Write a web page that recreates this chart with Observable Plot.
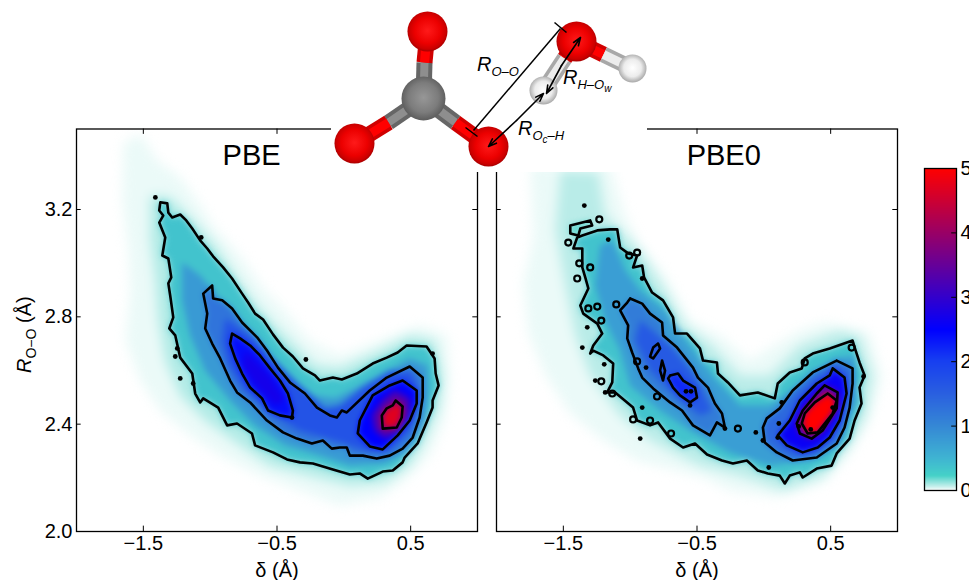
<!DOCTYPE html>
<html><head><meta charset="utf-8">
<script src="https://cdn.jsdelivr.net/npm/d3@7"></script>
<script src="https://cdn.jsdelivr.net/npm/@observablehq/plot@0.6"></script>
<style>
html,body{margin:0;padding:0;background:#fff;overflow:hidden}
#page{position:relative;width:969px;height:580px;overflow:hidden;font-family:"Liberation Sans",Arial,sans-serif;color:#000}
#page svg{position:absolute;overflow:hidden}
</style></head><body><div id="page"></div>
<script>
// ---- axes ----
const xTicks=[-1.5,-0.5,0.5];
const yTicks=[2.0,2.4,2.8,3.2];
const colorTicks=[0,1,2,3,4,5];
const colorStops=[0,0.06,0.23,0.5,1,1.5,2,2.5,5];
const colorRange=["#ffffff","#c8f0ec","#45d1c8","#3fb4d2","#3588d5","#2a60e0","#1840f0","#0000ff","#ff0000"];
// R readings below were taken against a ruler of 270 px per Angstrom; the axis has 268.3
const rulerCorrection=270/268.3;

// ---- PBE density outlines: [delta, R, delta, R, ...] ----
const pbeHaloFaint=[-1.649,3.437,-1.522,3.474,-1.396,3.374,-1.224,3.311,-1.097,3.226,-.963,3.122,-.776,3.022,-.590,2.893,-.440,2.819,-.254,2.707,-.030,2.652,.269,2.707,.567,2.763,.776,2.726,.791,2.559,.754,2.411,.642,2.281,.455,2.189,.269,2.126,-.030,2.096,-.328,2.152,-.627,2.207,-.925,2.281,-1.149,2.356,-1.373,2.448,-1.522,2.559,-1.634,2.707,-1.597,2.893,-1.612,3.041,-1.657,3.226];
const pbeHaloMid=[-1.448,3.244,-1.299,3.237,-1.112,3.144,-.963,3.059,-.813,2.948,-.664,2.844,-.515,2.763,-.366,2.689,-.216,2.615,-.030,2.604,.269,2.670,.493,2.726,.679,2.707,.739,2.578,.716,2.467,.604,2.337,.493,2.244,.306,2.181,.045,2.170,-.254,2.207,-.552,2.244,-.776,2.319,-1.037,2.411,-1.224,2.504,-1.336,2.633,-1.388,2.781,-1.410,2.930,-1.448,3.078];
const pbeBand=[-1.209,2.996,-1.075,2.948,-.888,2.837,-.701,2.726,-.552,2.652,-.403,2.567,-.216,2.504,-.067,2.493,.231,2.567,.493,2.641,.627,2.615,.634,2.504,.604,2.393,.478,2.293,.306,2.252,.045,2.244,-.179,2.281,-.440,2.319,-.664,2.393,-.851,2.485,-1.037,2.596,-1.149,2.726,-1.209,2.856];
const pbeCore=[-.888,2.789,-.701,2.726,-.515,2.633,-.328,2.541,-.142,2.456,-.030,2.467,.157,2.541,.343,2.596,.507,2.589,.567,2.504,.493,2.374,.343,2.300,.157,2.300,-.067,2.337,-.328,2.374,-.552,2.441,-.739,2.522,-.866,2.615,-.910,2.707];
const pbeLobeCentre=[-.739,2.670,-.552,2.578,-.440,2.485,-.515,2.467,-.664,2.541,-.761,2.615];
const pbePeakRing=[.381,2.522,.493,2.493,.493,2.430,.403,2.367,.306,2.344,.231,2.374,.209,2.430,.284,2.485];

// ---- PBE contour lines ----
const pbeLevelA=[-1.373,3.219,-1.321,3.215,-1.313,3.181,-1.284,3.163,-1.224,3.174,-1.179,3.152,-1.134,3.122,-1.075,3.078,-1.022,3.048,-.978,3.019,-.903,2.978,-.836,2.937,-.761,2.881,-.716,2.848,-.664,2.807,-.604,2.785,-.530,2.730,-.455,2.681,-.381,2.648,-.306,2.604,-.216,2.578,-.179,2.559,-.082,2.570,-.015,2.563,.097,2.585,.216,2.622,.321,2.644,.403,2.663,.470,2.689,.619,2.685,.679,2.641,.687,2.585,.709,2.541,.664,2.485,.664,2.459,.619,2.404,.552,2.326,.455,2.274,.440,2.256,.366,2.226,.291,2.222,.179,2.196,.119,2.215,.045,2.211,-.082,2.230,-.231,2.252,-.328,2.256,-.425,2.267,-.530,2.293,-.664,2.319,-.687,2.363,-.799,2.400,-.873,2.393,-.940,2.459,-1.052,2.493,-1.075,2.478,-1.112,2.511,-1.134,2.585,-1.224,2.644,-1.261,2.726,-1.306,2.752,-1.276,2.793,-1.299,2.874,-1.313,2.919,-1.291,2.941,-1.313,3.011,-1.358,3.022,-1.336,3.089,-1.381,3.144,-1.351,3.170,-1.381,3.189];
const pbeLevelB=[-.985,2.911,-.978,2.863,-.910,2.856,-.836,2.826,-.761,2.774,-.649,2.719,-.575,2.670,-.493,2.607,-.403,2.552,-.291,2.511,-.201,2.459,-.104,2.430,-.052,2.422,-.015,2.448,.022,2.441,.194,2.522,.321,2.570,.493,2.611,.590,2.570,.590,2.496,.567,2.422,.515,2.348,.440,2.307,.343,2.281,.246,2.270,.142,2.281,.045,2.281,.022,2.311,-.030,2.311,-.090,2.307,-.157,2.337,-.239,2.326,-.351,2.344,-.455,2.367,-.575,2.411,-.701,2.478,-.799,2.515,-.851,2.559,-.925,2.641,-.985,2.696,-1.037,2.752,-1.022,2.807,-1.052,2.881];
const pbeLevelC1=[-.836,2.733,-.776,2.715,-.701,2.689,-.627,2.652,-.552,2.604,-.478,2.559,-.418,2.511,-.381,2.448,-.388,2.422,-.478,2.430,-.567,2.448,-.612,2.493,-.701,2.533,-.761,2.585,-.813,2.641,-.851,2.696];
const pbeLevelC2=[.440,2.559,.545,2.522,.545,2.474,.493,2.411,.403,2.356,.291,2.304,.194,2.315,.104,2.363,.119,2.411,.216,2.504,.343,2.541];
const pbeLevelD=[.388,2.485,.440,2.463,.433,2.422,.396,2.385,.291,2.381,.284,2.430,.321,2.456,.366,2.467];
const pbeSpecks=[-1.410,3.237,-1.067,3.089,-1.246,2.678,-1.261,2.648,-1.224,2.567,-1.127,2.548,-.284,2.637,-.388,2.422,.664,2.659];

// ---- PBE0 density outlines ----
const pbe0HaloFaint=[-1.746,3.356,-1.149,3.356,-1.037,3.170,-.925,3.059,-.739,2.948,-.552,2.781,-.328,2.726,-.104,2.633,.082,2.689,.269,2.744,.455,2.774,.791,2.737,.888,2.570,.791,2.411,.642,2.289,.440,2.178,.097,2.126,-.254,2.152,-.455,2.200,-.948,2.263,-1.201,2.337,-1.448,2.437,-1.634,2.578,-1.761,2.733,-1.799,2.919,-1.724,3.089];
const pbe0HaloMid=[-1.522,3.337,-1.239,3.330,-1.187,3.170,-.925,3.041,-.739,2.893,-.590,2.763,-.388,2.689,-.179,2.578,.045,2.578,.269,2.689,.567,2.744,.716,2.726,.813,2.578,.761,2.430,.642,2.319,.455,2.207,.157,2.152,-.179,2.207,-.478,2.244,-.851,2.337,-1.075,2.430,-1.299,2.578,-1.410,2.726,-1.485,2.911,-1.560,3.119];
const pbe0Band=[-1.224,3.059,-1.134,3.078,-1.037,2.967,-.925,2.893,-.739,2.819,-.552,2.689,-.366,2.567,-.179,2.467,.045,2.467,.269,2.541,.530,2.641,.679,2.652,.694,2.485,.567,2.319,.343,2.263,.045,2.244,-.254,2.293,-.552,2.374,-.776,2.448,-1.000,2.541,-1.075,2.670,-1.187,2.781,-1.261,2.911];
const pbe0Core=[-.925,2.781,-.701,2.689,-.515,2.578,-.388,2.448,-.478,2.430,-.664,2.504,-.851,2.596,-.963,2.707];

// ---- PBE0 contour lines ----
const pbe0LevelA=[-1.358,3.096,-1.246,3.115,-1.149,3.119,-1.097,3.119,-1.075,3.052,-1.015,3.030,-.948,3.022,-.978,2.978,-.910,2.985,-.896,2.941,-.836,2.885,-.754,2.856,-.679,2.793,-.664,2.733,-.575,2.733,-.478,2.678,-.455,2.633,-.351,2.626,-.343,2.585,-.269,2.552,-.179,2.504,-.045,2.515,.082,2.493,.104,2.548,.194,2.589,.284,2.604,.306,2.641,.366,2.659,.493,2.678,.664,2.707,.687,2.670,.716,2.626,.754,2.578,.716,2.533,.731,2.474,.679,2.411,.642,2.344,.545,2.289,.507,2.244,.396,2.233,.291,2.200,.269,2.219,.194,2.207,.157,2.178,.119,2.207,.030,2.215,-.045,2.226,-.127,2.263,-.231,2.252,-.313,2.263,-.425,2.285,-.515,2.326,-.604,2.311,-.701,2.344,-.791,2.404,-.851,2.393,-.948,2.411,-.978,2.459,-1.112,2.515,-1.172,2.515,-1.134,2.552,-1.127,2.622,-1.201,2.652,-1.276,2.670,-1.299,2.659,-1.276,2.689,-1.209,2.733,-1.246,2.770,-1.351,2.807,-1.373,2.837,-1.313,2.900,-1.336,2.941,-1.358,2.978,-1.358,3.048,-1.425,3.048,-1.396,3.089];
const pbe0LevelA2=[-1.448,3.133,-1.299,3.152,-1.284,3.133,-1.373,3.122,-1.388,3.096,-1.448,3.104];
const pbe0LevelB1=[-1.000,2.863,-.910,2.844,-.851,2.807,-.761,2.774,-.754,2.726,-.649,2.681,-.530,2.607,-.493,2.570,-.418,2.533,-.366,2.474,-.313,2.437,-.291,2.385,-.351,2.404,-.403,2.356,-.530,2.393,-.612,2.448,-.701,2.478,-.828,2.530,-.910,2.570,-.940,2.604,-.985,2.663,-1.022,2.715,-1.015,2.763,-1.075,2.819,-1.022,2.848];
const pbe0LevelB2=[.545,2.633,.664,2.604,.664,2.548,.642,2.459,.604,2.385,.545,2.326,.396,2.274,.216,2.263,.097,2.293,.007,2.330,-.007,2.385,.022,2.419,.119,2.456,.216,2.522,.366,2.589];
const pbe0LevelC1=[-.701,2.578,-.642,2.585,-.604,2.559,-.515,2.533,-.500,2.496,-.552,2.478,-.627,2.504,-.679,2.533,-.716,2.567];
const pbe0LevelC2=[-.791,2.696,-.776,2.678,-.828,2.641,-.851,2.648,-.828,2.681];
const pbe0LevelC3=[-.761,2.633,-.739,2.596,-.754,2.559,-.776,2.596];
const pbe0LevelC4=[.515,2.604,.604,2.570,.619,2.511,.567,2.411,.493,2.348,.403,2.311,.291,2.293,.172,2.319,.104,2.356,.194,2.411,.269,2.485,.396,2.548,.493,2.578];
const pbe0LevelD=[.455,2.541,.552,2.515,.545,2.456,.440,2.374,.358,2.344,.269,2.363,.246,2.400,.291,2.448,.396,2.511];
const pbe0LevelE=[.478,2.511,.545,2.485,.515,2.437,.403,2.367,.328,2.363,.284,2.400,.306,2.437,.381,2.478];
const pbe0Rings=[-1.246,2.833,-1.216,2.781,-1.216,2.556,-1.134,2.511,-.799,2.500,-.978,2.415,-.851,2.411,-.694,2.363,-.194,2.381,.306,2.626,.657,2.681,-1.231,3.156,-1.463,3.070,-1.381,2.993,-1.299,2.978,-1.396,2.937,-1.313,2.826,-1.007,3.022,-.948,3.033,-1.104,2.841,-.948,2.630];
const pbe0Specks=[-1.343,3.207,-1.164,3.081,-.910,2.937,-1.321,2.756,-1.358,2.681,-1.194,2.619,-1.261,2.559,-1.187,2.515,-.910,2.459,-.925,2.344,-.881,2.607,-.552,2.467,-.582,2.519,-.545,2.519,-.291,2.381,-.060,2.367,-.007,2.337,.112,2.400,.134,2.478,.037,2.237,.515,2.459,.351,2.378,.261,2.389,.746,2.574,.104,2.348];

// ---- molecule sketch (schematic units) ----
const oxygens=[[427,31],[354,143],[488,146],[576,41]];
const carbon=[[423,98]];
const hydrogens=[[543,90],[632,68]];
const greyBonds=[[423,98,424,62],[423,98,388,122],[423,98,455,122]];
const redBonds=[[424,62,427,31],[388,122,354,143],[455,122,488,146],[576,41,564,58],[576,41,603,54]];
const whiteBonds=[[564,58,543,90],[603,54,632,68]];
const doubleArrows=[[561,65,580,37],[561,65,546,93],[516,120,543,93],[516,120,488,146]];
const plainLines=[[560,28,473,130],[554,22,566,32],[465,127,477,136]];

// ---- helpers ----
const page=d3.select("#page").node();
const colorOpt={type:"linear",domain:colorStops,range:colorRange,interpolate:"rgb",clamp:true};
const rows=(flat,id,level)=>d3.range(0,flat.length,2).map(i=>({x:flat[i],y:2+(flat[i+1]-2)*rulerCorrection,id,level}));
const fillRows=list=>list.flatMap(([f,l],i)=>rows(f,i,l));
const lineRows=list=>list.flatMap((f,i)=>rows(f.concat(f.slice(0,2)),i,0));
const pts=f=>rows(f,0,0);
function place(el,left,top){el.style.left=left+"px";el.style.top=top+"px";page.appendChild(el);}

function panel(o){
  const marks=[
    Plot.line(fillRows(o.halos),{x:"x",y:"y",z:"id",fill:"level",stroke:"none",imageFilter:"blur(6px)"}),
    Plot.line(fillRows(o.fills),{x:"x",y:"y",z:"id",fill:"level",stroke:"none",imageFilter:"blur(3px)"}),
    Plot.line(lineRows(o.lines),{x:"x",y:"y",z:"id",stroke:"black",strokeWidth:2.6,strokeLinejoin:"round"}),
    Plot.dot(pts(o.specks),{x:"x",y:"y",r:2.4,fill:"black"})
  ];
  if(o.rings) marks.push(Plot.dot(pts(o.rings),{x:"x",y:"y",r:3,stroke:"black",strokeWidth:2.2,fill:"none"}));
  marks.push(
    Plot.ruleX(xTicks,{y1:2,y2:2.02,stroke:"black",strokeWidth:1}),
    Plot.ruleX(xTicks,{y1:3.48,y2:3.5,stroke:"black",strokeWidth:1}),
    Plot.ruleY(yTicks,{x1:-2,x2:-1.965,stroke:"black",strokeWidth:1}),
    Plot.ruleY(yTicks,{x1:0.965,x2:1,stroke:"black",strokeWidth:1}),
    Plot.frame({stroke:"black",strokeWidth:1.3}),
    Plot.axisX(xTicks,{anchor:"bottom",tickSize:0,tickPadding:4,fontSize:20,label:null,tickFormat:d=>d.toFixed(1).replace("-","\u2212")}),
    Plot.text([o.title],{x:o.titleX,y:3.4,text:d=>d,fontSize:29,textAnchor:"middle",fill:"black"})
  );
  if(o.yLabels) marks.push(Plot.axisY(yTicks,{anchor:"left",tickSize:0,tickPadding:4,fontSize:20,label:null,tickFormat:d=>d.toFixed(1)}));
  else marks.push(Plot.axisY({ticks:[],label:null,tickSize:0}));
  const svg=Plot.plot({width:o.width,height:580,marginLeft:o.ml,marginRight:o.mr,marginTop:128.5,marginBottom:49,
    style:{fontFamily:'"Liberation Sans",Arial,sans-serif',background:"transparent",color:"black"},
    x:{domain:[-2,1]},y:{domain:[2,3.5]},color:colorOpt,marks});
  place(svg,o.left,0);
}

panel({left:0,width:490,ml:76,mr:13,title:"PBE",titleX:-0.69,yLabels:true,
  halos:[[pbeHaloFaint,0.022],[pbeHaloMid,0.09]],
  fills:[[pbeLevelA,0.36],[pbeBand,0.8],[pbeLevelB,1.25],[pbeCore,1.7],[pbeLevelC1,2.4],[pbeLobeCentre,2.7],[pbeLevelC2,2.5],[pbePeakRing,3.3],[pbeLevelD,4.7]],
  lines:[pbeLevelA,pbeLevelB,pbeLevelC1,pbeLevelC2,pbeLevelD],specks:pbeSpecks});

panel({left:486,width:421,ml:10,mr:10,title:"PBE0",titleX:-0.30,yLabels:false,
  halos:[[pbe0HaloFaint,0.022],[pbe0HaloMid,0.08]],
  fills:[[pbe0LevelA,0.36],[pbe0LevelA2,0.2],[pbe0Band,0.75],[pbe0LevelB1,1.15],[pbe0LevelB2,1.4],[pbe0Core,1.6],[pbe0LevelC1,2.2],[pbe0LevelC4,2.6],[pbe0LevelD,3.7],[pbe0LevelE,5]],
  lines:[pbe0LevelA,pbe0LevelA2,pbe0LevelB1,pbe0LevelB2,pbe0LevelC1,pbe0LevelC2,pbe0LevelC3,pbe0LevelC4,pbe0LevelD,pbe0LevelE],
  specks:pbe0Specks,rings:pbe0Rings});

// colour bar
place(Plot.plot({width:55,height:342,marginLeft:10,marginRight:13,marginTop:10,marginBottom:10,
  style:{fontFamily:'"Liberation Sans",Arial,sans-serif',background:"transparent",color:"black"},
  x:{domain:[0,1],axis:null},y:{domain:[0,5]},color:colorOpt,
  marks:[
    Plot.raster({x1:0,x2:1,y1:0,y2:5,fill:(x,y)=>y}),
    Plot.ruleY(colorTicks,{x1:0.85,x2:1,stroke:"black"}),
    Plot.frame({stroke:"black",strokeWidth:1.3}),
    Plot.axisY(colorTicks,{anchor:"right",tickSize:0,tickPadding:4,fontSize:20,label:null})
  ]}),914,158);

// molecule
function bondMark(list,stroke,w,extra={}){
  return Plot.link(list,{x1:d=>d[0],y1:d=>d[1],x2:d=>d[2],y2:d=>d[3],stroke,strokeWidth:w,...extra});
}
function gradient(defs,id,stops){
  const g=defs.append("radialGradient").attr("id",id).attr("cx","50%").attr("cy","48%").attr("r","52%");
  stops.forEach(([o,c])=>g.append("stop").attr("offset",o).attr("stop-color",c));
}
const defsMark=()=>{
  const defs=d3.create("svg:defs");
  gradient(defs,"atomRed",[["0%","#ff1a1a"],["62%","#ec0000"],["88%","#cc0000"],["100%","#a80000"]]);
  gradient(defs,"atomGrey",[["0%","#979797"],["65%","#7c7c7c"],["100%","#5c5c5c"]]);
  gradient(defs,"atomWhite",[["0%","#ffffff"],["60%","#ececec"],["100%","#a8a8a8"]]);
  return defs.node();
};
const molecule=Plot.plot({width:316,height:172,margin:0,
  style:{background:"#ffffff"},
  x:{domain:[331,647],axis:null},y:{domain:[0,172],range:[0,172],axis:null},r:{type:"identity"},
  marks:[
    defsMark,
    bondMark(greyBonds,"#666666",16),bondMark(greyBonds,"#8e8e8e",8),
    bondMark(redBonds,"#d00000",16),bondMark(redBonds,"#ff0000",9),
    bondMark(whiteBonds,"#a8a8a8",16),bondMark(whiteBonds,"#ececec",9),
    Plot.dot(oxygens,{x:d=>d[0],y:d=>d[1],r:20,fill:"url(#atomRed)"}),
    Plot.dot(carbon,{x:d=>d[0],y:d=>d[1],r:22,fill:"url(#atomGrey)"}),
    Plot.dot(hydrogens,{x:d=>d[0],y:d=>d[1],r:14,fill:"url(#atomWhite)"}),
    bondMark(plainLines,"#000",1.5),
    Plot.arrow(doubleArrows,{x1:d=>d[0],y1:d=>d[1],x2:d=>d[2],y2:d=>d[3],stroke:"#000",strokeWidth:1.6,headLength:8,headAngle:40})
  ]});
place(molecule,331,0);

// sub-scripted labels
const overlay=d3.select(page).append("svg").attr("width",969).attr("height",580).style("left","0").style("top","0").style("pointer-events","none")
  .style("font-family",'"Liberation Sans",Arial,sans-serif').style("fill","#000");
function subLabel(x,y,parts,size,subSize,italic=true){
  const t=overlay.append("text").attr("x",x).attr("y",y).attr("font-size",size).attr("font-style",italic?"italic":"normal");
  parts.forEach(([s,dy,fs,st])=>t.append("tspan").attr("dy",dy).attr("font-size",fs).attr("font-style",st||null).text(s));
  return t;
}
subLabel(477,71,[["R",0,20],["O\u2013O",5,13]]);
subLabel(563,84,[["R",0,20],["H\u2013O",5,13],["w",3,10]]);
subLabel(518,135,[["R",0,20],["O",5,13],["c",3,10],["\u2013H",-3,13]]);
subLabel(0,0,[["R",0,20,"italic"],["O\u2212O",5,14,"normal"],[" (\u00c5)",-5,20,"normal"]],20,14,false).attr("transform","translate(31,373) rotate(-90)");
overlay.append("text").attr("x",277).attr("y",577).attr("text-anchor","middle").attr("font-size",20).text("\u03b4 (\u00c5)");
overlay.append("text").attr("x",697).attr("y",577).attr("text-anchor","middle").attr("font-size",20).text("\u03b4 (\u00c5)");
</script></body></html>
